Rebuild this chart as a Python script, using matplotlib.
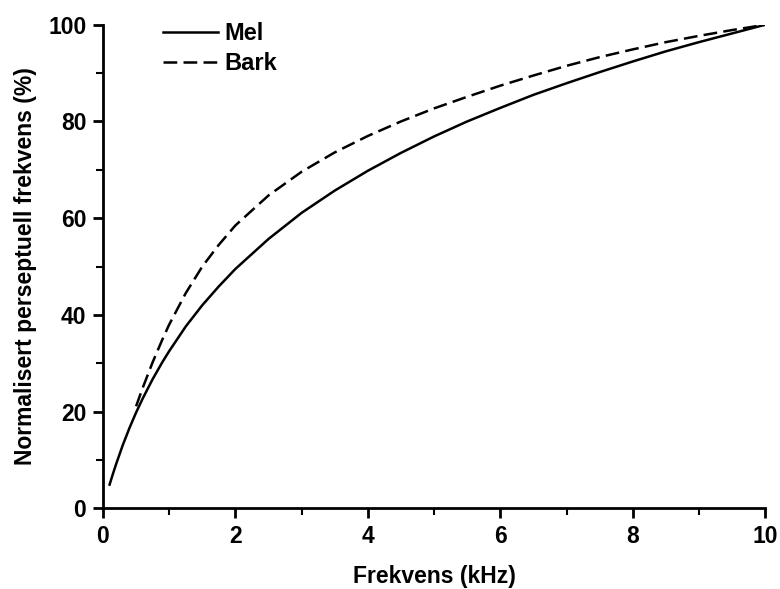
import matplotlib
matplotlib.use("Agg")
from matplotlib import pyplot as plt
from matplotlib.ticker import MultipleLocator

plt.rcParams['font.family'] = ['Liberation Sans', 'DejaVu Sans']
plt.rcParams['font.weight'] = 'bold'

# frequency in kHz, normalised perceptual frequency in %
mel_f = [0.1, 0.15, 0.2, 0.3, 0.4, 0.5, 0.6, 0.75, 0.9, 1.0, 1.25, 1.5, 1.75, 2.0, 2.5, 3.0, 3.5,
         4.0, 4.5, 5.0, 5.5, 6.0, 6.5, 7.0, 7.5, 8.0, 8.5, 9.0, 9.5, 10.0]
mel_p = [4.9, 7.1, 9.2, 13.1, 16.6, 19.8, 22.7, 26.7, 30.3, 32.5, 37.6, 42.0, 45.9, 49.5, 55.7, 61.1, 65.7,
         69.8, 73.5, 76.9, 80.0, 82.8, 85.5, 87.9, 90.2, 92.4, 94.5, 96.4, 98.2, 100.0]

bark_f = [0.5, 0.6, 0.75, 0.9, 1.0, 1.25, 1.5, 1.75, 2.0, 2.5, 3.0, 3.5, 4.0, 4.5, 5.0, 5.5,
          6.0, 6.5, 7.0, 7.5, 8.0, 8.5, 9.0, 9.5, 10.0]
bark_p = [21.1, 24.9, 30.2, 35.0, 38.0, 44.5, 50.0, 54.5, 58.5, 64.7, 69.6, 73.6, 77.0, 80.0, 82.7, 85.1,
          87.4, 89.5, 91.5, 93.3, 94.9, 96.4, 97.7, 98.9, 100.0]

fig = plt.figure(figsize=(7.8, 5.89), dpi=100)
ax = fig.add_axes([0.132, 0.137, 0.849, 0.821])

ax.plot(mel_f, mel_p, color='black', lw=1.8, label='Mel')
ax.plot(bark_f, bark_p, color='black', lw=1.8, linestyle=(0, (5.5, 2.5)), label='Bark')

ax.set_xlim(0, 10)
ax.set_ylim(0, 100)
ax.xaxis.set_major_locator(MultipleLocator(2))
ax.xaxis.set_minor_locator(MultipleLocator(1))
ax.yaxis.set_major_locator(MultipleLocator(20))
ax.yaxis.set_minor_locator(MultipleLocator(10))

for s in ['top', 'right']:
    ax.spines[s].set_visible(False)
for s in ['left', 'bottom']:
    ax.spines[s].set_linewidth(2)

ax.tick_params(which='major', length=7, width=2, labelsize=16.5, direction='out', pad=5)
ax.tick_params(which='minor', length=5, width=1.5, direction='out')
for lab in ax.get_xticklabels() + ax.get_yticklabels():
    lab.set_fontweight('bold')

ax.set_xlabel('Frekvens (kHz)', fontsize=16.5, fontweight='bold', labelpad=12)
ax.set_ylabel('Normalisert perseptuell frekvens (%)', fontsize=16.5, fontweight='bold', labelpad=8)

leg = ax.legend(loc='upper left', bbox_to_anchor=(0.058, 1.049), frameon=False,
                fontsize=17, handlelength=2.35, handletextpad=0.25, labelspacing=0.3)
for t in leg.get_texts():
    t.set_fontweight('bold')

fig.savefig('out.png', dpi=100)
